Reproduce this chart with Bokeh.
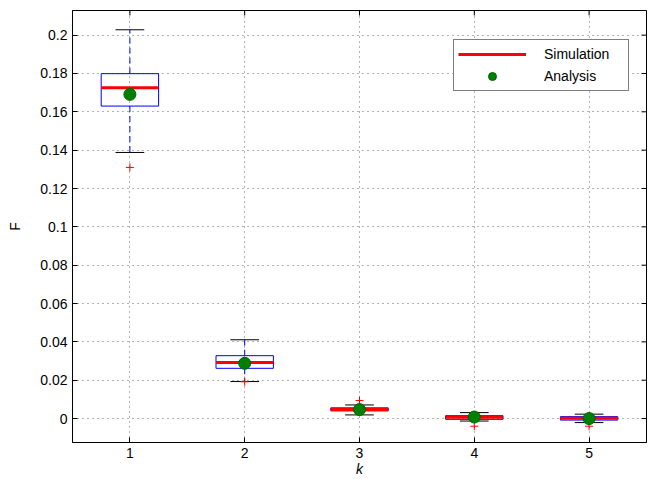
from bokeh.plotting import figure
from bokeh.models import Range1d, FixedTicker, Legend, LegendItem, ColumnDataSource
from bokeh.embed import file_html
from bokeh.resources import INLINE

# ---- data ----
k = [1, 2, 3, 4, 5]
upper_whisker = [0.2028, 0.0411, 0.0071, 0.0031, 0.0023]
q3 = [0.1799, 0.0328, 0.0056, 0.0015, 0.0010]
median = [0.1726, 0.0293, 0.0047, 0.0007, 0.0001]
q1 = [0.1630, 0.0262, 0.0040, -0.0004, -0.0008]
lower_whisker = [0.1388, 0.0193, 0.0019, -0.0013, -0.0021]
outlier_k = [1, 2, 3, 4, 5]
outlier_v = [0.1310, 0.0192, 0.0094, -0.0040, -0.0040]
analysis = [0.1691, 0.0288, 0.0047, 0.0008, 0.0000]

x_ticks = [1, 2, 3, 4, 5]
y_ticks = [0, 0.02, 0.04, 0.06, 0.08, 0.1, 0.12, 0.14, 0.16, 0.18, 0.2]
y_tick_labels = ["0", "0.02", "0.04", "0.06", "0.08", "0.1", "0.12", "0.14", "0.16", "0.18", "0.2"]
x_label = "k"
y_label = "F"

FONT = "Liberation Sans"
FS = "14px"

X0, X1 = 0.5, 5.5
Y0, Y1 = -0.01249, 0.21285
FRAME_W, FRAME_H = 574, 433
TICK_PX = 5

box_w = 0.5
cap_w = 0.25

src = ColumnDataSource(dict(
    k=k,
    left=[x - box_w / 2 for x in k],
    right=[x + box_w / 2 for x in k],
    cl=[x - cap_w / 2 for x in k],
    cr=[x + cap_w / 2 for x in k],
    uw=upper_whisker, q3=q3, med=median, q1=q1, lw=lower_whisker,
    ana=analysis,
))
out_src = ColumnDataSource(dict(k=outlier_k, v=outlier_v))

p = figure(width=660, height=479,
           x_range=Range1d(X0, X1), y_range=Range1d(Y0, Y1),
           output_backend="svg", toolbar_location=None,
           min_border_left=72, min_border_right=14, min_border_top=10, min_border_bottom=36)
p.background_fill_color = "white"
p.border_fill_color = "white"
p.outline_line_color = "black"
p.outline_line_width = 1

# whiskers
p.segment(x0="k", y0="q3", x1="k", y1="uw", source=src, line_color="#0000ff", line_width=1, line_dash="6 4")
p.segment(x0="k", y0="q1", x1="k", y1="lw", source=src, line_color="#0000ff", line_width=1, line_dash="6 4")
# caps
p.segment(x0="cl", y0="uw", x1="cr", y1="uw", source=src, line_color="black", line_width=1)
p.segment(x0="cl", y0="lw", x1="cr", y1="lw", source=src, line_color="black", line_width=1)
# boxes
p.quad(left="left", right="right", bottom="q1", top="q3", source=src,
       fill_color=None, line_color="#0000ff", line_width=1)
# medians
med_r = p.segment(x0="left", y0="med", x1="right", y1="med", source=src, line_color="#ff0000", line_width=3)
# outliers
p.scatter(x="k", y="v", source=out_src, marker="cross", size=8, line_color="#ff0000", line_width=1)
# analysis
ana_r = p.scatter(x="k", y="ana", source=src, marker="circle", size=12,
                  fill_color="#008000", line_color="#006400", line_width=1)

# tick marks on top and right edges (box on)
dy = TICK_PX * (Y1 - Y0) / FRAME_H
dx = TICK_PX * (X1 - X0) / FRAME_W
p.segment(x0=x_ticks, y0=[Y1] * len(x_ticks), x1=x_ticks, y1=[Y1 - dy] * len(x_ticks),
          line_color="black", line_width=1)
p.segment(x0=[X1] * len(y_ticks), y0=y_ticks, x1=[X1 - dx] * len(y_ticks), y1=y_ticks,
          line_color="black", line_width=1)

# axes
for ax in (p.xaxis[0], p.yaxis[0]):
    ax.major_tick_in = 5
    ax.major_tick_out = 0
    ax.minor_tick_line_color = None
    ax.axis_line_color = "black"
    ax.major_tick_line_color = "black"
    ax.major_label_text_font = FONT
    ax.major_label_text_font_size = FS
    ax.major_label_text_color = "black"
    ax.axis_label_text_font = FONT
    ax.axis_label_text_font_size = FS
    ax.axis_label_text_color = "black"

p.xaxis.ticker = FixedTicker(ticks=x_ticks)
p.yaxis.ticker = FixedTicker(ticks=y_ticks)
p.yaxis.major_label_overrides = {t: l for t, l in zip(y_ticks, y_tick_labels)}
p.xaxis.major_label_standoff = 5
p.yaxis.major_label_standoff = 5
p.xaxis.axis_label = x_label
p.xaxis.axis_label_text_font_style = "italic"
p.xaxis.axis_label_standoff = 0
p.yaxis.axis_label = y_label
p.yaxis.axis_label_text_font_style = "normal"
p.yaxis.axis_label_standoff = 14

# grid
for g in (p.xgrid[0], p.ygrid[0]):
    g.grid_line_color = "black"
    g.grid_line_alpha = 0.6
    g.grid_line_dash = "1 4"
    g.grid_line_width = 1

legend = Legend(items=[LegendItem(label="Simulation", renderers=[med_r]),
                       LegendItem(label="Analysis", renderers=[ana_r])],
                location=(381, 351))
legend.margin = 0
legend.padding = 4
legend.spacing = 2
legend.glyph_width = 68
legend.glyph_height = 20
legend.label_height = 20
legend.label_width = 80
legend.label_standoff = 18
legend.label_text_font = FONT
legend.label_text_font_size = FS
legend.label_text_color = "black"
legend.border_line_color = "black"
legend.border_line_width = 1
legend.background_fill_color = "white"
legend.background_fill_alpha = 1
p.add_layout(legend, "center")

open("out.html", "w").write(file_html(p, INLINE))
